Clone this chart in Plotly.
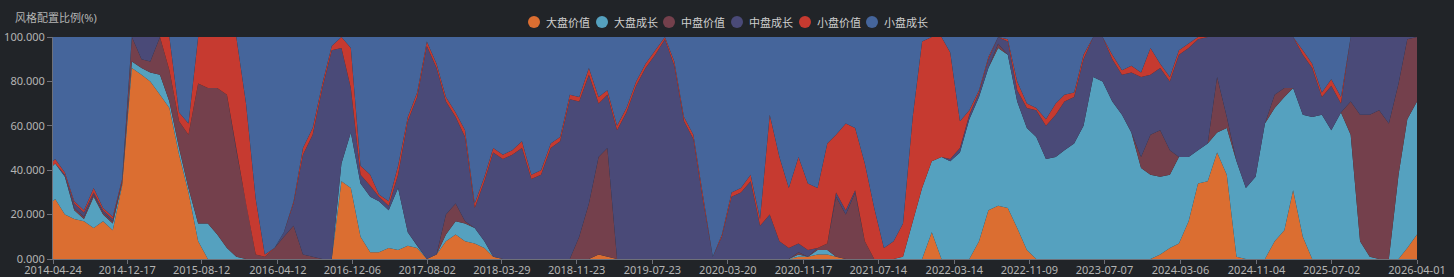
import pandas as pd
import plotly.graph_objects as go

# ---- data ----
dates = ["2014-04-24"] + [d.strftime("%Y-%m-%d") for d in pd.date_range("2014-05-01", "2026-04-01", freq="MS")]

series_names = ["大盘价值", "大盘成长", "中盘价值", "中盘成长", "小盘价值", "小盘成长"]

large_value = [26,
    27, 20, 18, 17, 14, 17, 13, 33, 86, 83,
    80, 74, 68, 47, 30, 8, 0, 0, 0, 0,
    0, 0, 0, 0, 0, 0, 0, 0, 0, 0,
    35, 32, 10, 3, 3, 5, 4, 6, 5, 0,
    2, 8, 11, 8, 7, 5, 1, 0, 0, 0,
    0, 0, 0, 0, 0, 0, 0, 2, 1, 0,
    0, 0, 0, 0, 0, 0, 0, 0, 0, 0,
    0, 0, 0, 0, 0, 0, 0, 0, 1, 1,
    2, 2, 1, 0, 0, 0, 0, 0, 0, 0,
    0, 0, 12, 0, 0, 0, 0, 8, 22, 24,
    23, 14, 4, 0, 0, 0, 0, 0, 0, 0,
    0, 0, 0, 0, 0, 0, 2, 5, 7, 17,
    34, 35, 48, 38, 1, 0, 0, 0, 8, 13,
    31, 10, 0, 0, 0, 0, 0, 0, 0, 0,
    0, 0, 5, 11]

large_growth = [16,
    16, 17, 4, 1, 14, 3, 3, 1, 3, 3,
    4, 9, 3, 3, 2, 8, 16, 11, 5, 1,
    0, 0, 0, 0, 0, 0, 0, 0, 0, 0,
    8, 25, 24, 25, 23, 17, 28, 6, 1, 0,
    0, 3, 6, 8, 7, 3, 0, 0, 0, 0,
    0, 0, 0, 0, 0, 0, 0, 0, 0, 0,
    0, 0, 0, 0, 0, 0, 0, 0, 0, 0,
    0, 0, 0, 0, 0, 0, 0, 0, 1, 0,
    2, 2, 0, 0, 0, 0, 0, 0, 0, 1,
    17, 32, 32, 46, 44, 48, 63, 65, 64, 71,
    69, 57, 55, 55, 45, 46, 49, 52, 60, 82,
    80, 71, 65, 57, 41, 38, 35, 33, 39, 29,
    15, 17, 9, 21, 43, 32, 37, 61, 60, 60,
    46, 55, 64, 65, 58, 66, 56, 8, 1, 0,
    0, 38, 58, 60]

mid_value = [0,
    0, 0, 1, 1, 1, 1, 1, 1, 11, 4,
    5, 17, 14, 12, 24, 63, 61, 66, 69, 48,
    25, 2, 1, 5, 10, 15, 2, 1, 0, 0,
    0, 0, 0, 0, 0, 0, 0, 0, 0, 0,
    0, 9, 8, 1, 0, 0, 0, 0, 0, 0,
    0, 0, 0, 0, 0, 10, 25, 44, 49, 0,
    0, 0, 0, 0, 0, 0, 0, 0, 0, 0,
    0, 0, 0, 0, 0, 0, 0, 0, 1, 0,
    1, 3, 27, 20, 30, 8, 0, 0, 0, 0,
    0, 0, 0, 0, 0, 0, 0, 0, 0, 2,
    0, 0, 0, 0, 0, 0, 0, 0, 0, 0,
    0, 0, 0, 0, 5, 18, 21, 11, 0, 0,
    0, 0, 25, 5, 0, 0, 0, 0, 6, 4,
    0, 0, 0, 0, 0, 0, 15, 57, 64, 67,
    61, 41, 36, 29]

mid_growth = [0,
    0, 1, 2, 2, 1, 1, 1, 0, 0, 10,
    11, 0, 0, 0, 0, 0, 0, 0, 0, 0,
    0, 0, 0, 0, 2, 10, 45, 55, 77, 94,
    52, 20, 4, 5, 2, 2, 6, 50, 67, 96,
    84, 51, 39, 38, 9, 27, 47, 45, 47, 50,
    36, 38, 50, 53, 72, 61, 58, 24, 24, 58,
    66, 78, 86, 92, 99, 87, 62, 54, 26, 1,
    10, 28, 30, 35, 15, 20, 8, 5, 4, 3,
    0, 0, 2, 2, 1, 0, 0, 0, 0, 0,
    0, 0, 0, 0, 1, 2, 2, 2, 4, 3,
    6, 5, 9, 12, 15, 19, 22, 21, 30, 18,
    20, 19, 18, 27, 36, 27, 28, 31, 46, 49,
    50, 48, 18, 36, 56, 68, 63, 39, 26, 23,
    23, 27, 22, 8, 20, 4, 29, 35, 35, 33,
    39, 21, 1, 0]

small_value = [2,
    2, 1, 1, 1, 2, 1, 1, 1, 0, 0,
    0, 0, 15, 4, 5, 21, 23, 23, 26, 51,
    45, 25, 1, 0, 0, 1, 3, 3, 2, 2,
    5, 18, 4, 5, 1, 2, 4, 2, 2, 2,
    2, 2, 2, 3, 2, 2, 2, 2, 2, 3,
    2, 2, 2, 2, 2, 2, 3, 3, 2, 2,
    2, 2, 2, 2, 1, 2, 2, 2, 2, 0,
    1, 2, 2, 3, 3, 45, 38, 27, 39, 30,
    27, 45, 26, 39, 28, 35, 23, 5, 8, 15,
    47, 66, 56, 54, 48, 12, 2, 1, 1, 0,
    1, 4, 2, 1, 3, 5, 3, 2, 2, 0,
    0, 2, 2, 3, 2, 12, 2, 2, 2, 2,
    1, 0, 0, 0, 0, 0, 0, 0, 0, 0,
    0, 2, 2, 2, 3, 3, 0, 0, 0, 0,
    0, 0, 0, 0]

small_growth = [56,
    55, 61, 74, 78, 68, 77, 81, 64, 0, 0,
    0, 0, 0, 34, 39, 0, 0, 0, 0, 0,
    30, 73, 98, 95, 88, 74, 50, 41, 21, 4,
    0, 5, 58, 62, 71, 74, 58, 36, 25, 2,
    12, 27, 34, 42, 75, 63, 50, 53, 51, 47,
    62, 60, 48, 45, 26, 27, 14, 27, 24, 40,
    32, 20, 12, 6, 0, 11, 36, 44, 72, 99,
    89, 70, 68, 62, 82, 35, 54, 68, 54, 66,
    68, 48, 44, 39, 41, 57, 77, 95, 92, 84,
    36, 2, 0, 0, 7, 38, 33, 24, 9, 0,
    1, 20, 30, 32, 37, 30, 26, 25, 8, 0,
    0, 8, 15, 13, 16, 5, 12, 18, 6, 3,
    0, 0, 0, 0, 0, 0, 0, 0, 0, 0,
    0, 6, 12, 25, 19, 27, 0, 0, 0, 0,
    0, 0, 0, 0]

tick_labels = ["2014-04-24", "2014-12-17", "2015-08-12", "2016-04-12", "2016-12-06",
               "2017-08-02", "2018-03-29", "2018-11-23", "2019-07-23", "2020-03-20",
               "2020-11-17", "2021-07-14", "2022-03-14", "2022-11-09", "2023-07-07",
               "2024-03-06", "2024-11-04", "2025-07-02", "2026-04-01"]
y_ticks = [0, 20, 40, 60, 80, 100]

# ---- style ----
colors = ["#db6e31", "#55a1bf", "#74404c", "#4a4a78", "#c63a30", "#45659b"]
bg = "#212428"
axis_col = "#6e7079"
text_col = "#b4b4b4"
FONT = "Noto Sans, Noto Sans CJK SC, sans-serif"

all_series = [large_value, large_growth, mid_value, mid_growth, small_value, small_growth]
for s in all_series:
    assert len(s) == len(dates), (len(s), len(dates))

W, H = 1454, 277
L, R, T, B = 53, 37, 37, 18
pw, ph = W - L - R, H - T - B

fig = go.Figure()
for i, (name, vals, col) in enumerate(zip(series_names, all_series, colors)):
    fig.add_trace(go.Scatter(
        x=dates, y=vals, name=name, mode="lines",
        line=dict(width=0, color=col), fillcolor=col,
        stackgroup="one", groupnorm="percent" if i == 0 else None,
        showlegend=False, hoverinfo="x+y+name",
    ))

def px_x(X):
    return (X - L) / pw

def px_y(Y):
    return (H - B - Y) / ph

annotations = [dict(
    text="风格配置比例(%)", x=px_x(13), y=px_y(18), xref="paper", yref="paper",
    xanchor="left", yanchor="middle", showarrow=False,
    font=dict(size=11, color=text_col, family=FONT))]
shapes = []
legend_cx = [534, 602, 669, 737, 805, 872]
for cx, name, col in zip(legend_cx, series_names, colors):
    shapes.append(dict(type="circle", xref="paper", yref="paper",
                       xsizemode="pixel", ysizemode="pixel",
                       xanchor=px_x(cx), yanchor=px_y(22),
                       x0=-6, x1=6, y0=-6, y1=6,
                       fillcolor=col, line=dict(width=0)))
    annotations.append(dict(text=name, x=px_x(cx + 10), y=px_y(22), xref="paper", yref="paper",
                            xanchor="left", yanchor="middle", showarrow=False,
                            font=dict(size=11, color="#cfcfcf", family=FONT)))

fig.update_layout(
    width=W, height=H, autosize=False,
    margin=dict(l=L, r=R, t=T, b=B, pad=0, autoexpand=False),
    paper_bgcolor=bg, plot_bgcolor=bg,
    font=dict(family=FONT, size=11, color=text_col),
    showlegend=False,
    annotations=annotations, shapes=shapes,
    xaxis=dict(type="date", range=[dates[0], dates[-1]], automargin=False,
               tickmode="array", tickvals=tick_labels, ticktext=tick_labels,
               showgrid=False, zeroline=False,
               showline=True, linecolor=axis_col, linewidth=1,
               ticks="outside", ticklen=4, tickcolor=axis_col,
               ticklabelstandoff=-3,
               tickfont=dict(size=11, color=text_col, family=FONT)),
    yaxis=dict(range=[0, 100], automargin=False, tickmode="array", tickvals=y_ticks,
               ticktext=[f"{v:.3f}" for v in y_ticks],
               showgrid=False, zeroline=False,
               showline=True, linecolor=axis_col, linewidth=1,
               ticks="outside", ticklen=5, tickcolor=axis_col,
               tickfont=dict(size=11, color=text_col, family=FONT)),
)

fig.write_html(
    "out.html",
    config={"responsive": False},
    post_script="document.body.style.margin='0';document.body.style.padding='0';"
                "document.body.style.overflow='hidden';"
                "document.body.style.background='" + bg + "';",
)
